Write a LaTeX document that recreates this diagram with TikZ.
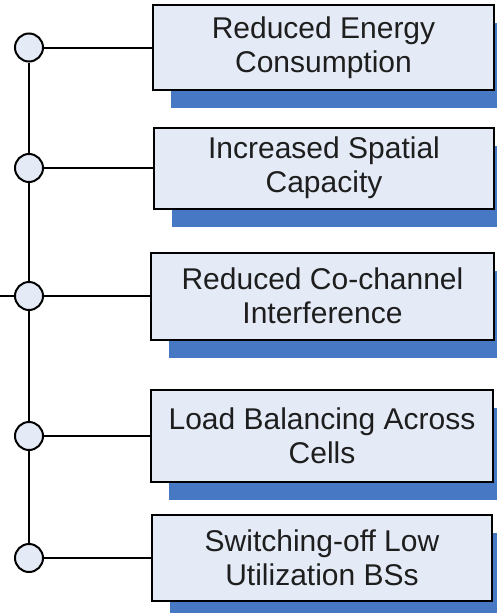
\documentclass[tikz,border=0pt]{standalone}
\usepackage{fontspec}
\setmainfont{Liberation Sans}
\usetikzlibrary{shadows}
\definecolor{boxfill}{RGB}{228,234,246}
\definecolor{shadowblue}{RGB}{70,120,195}
\definecolor{textc}{RGB}{30,30,30}
\begin{document}
\begin{tikzpicture}[x=1pt,y=-1pt,
  itembox/.style={draw=black, line width=2pt, fill=boxfill, rectangle,
    inner sep=0pt, align=center, text=textc,
    font=\fontsize{30}{34}\selectfont,
    drop shadow={shadow xshift=18pt, shadow yshift=-18pt, fill=shadowblue, opacity=1}},
  dot/.style={draw=black, line width=2pt, fill=boxfill, circle, minimum size=28pt, inner sep=0pt},
  link/.style={draw=black, line width=2pt}]
\useasboundingbox (0,0) rectangle (497,613);
\begin{scope}
\clip (0,0) rectangle (497,613);
\node[itembox, minimum width=341pt, minimum height=85pt] (b1) at (323.5,47.5) {Reduced Energy\\Consumption};
\node[itembox, minimum width=340pt, minimum height=81pt] (b2) at (324,168) {Increased Spatial\\Capacity};
\node[itembox, minimum width=343pt, minimum height=87pt] (b3) at (322.5,296) {Reduced Co-channel\\Interference};
\node[itembox, minimum width=342pt, minimum height=92pt] (b4) at (322,436) {Load Balancing Across\\Cells};
\node[itembox, minimum width=340pt, minimum height=86pt] (b5) at (322,558) {Switching-off Low\\Utilization BSs};
\end{scope}
\node[dot] (c1) at (29,47.5) {};
\node[dot] (c2) at (29,168) {};
\node[dot] (c3) at (29,296) {};
\node[dot] (c4) at (29,436) {};
\node[dot] (c5) at (29,558) {};
\coordinate (stub) at (0,296);
\draw[link] (c1) -- (c2);
\draw[link] (c2) -- (c3);
\draw[link] (c3) -- (c4);
\draw[link] (c4) -- (c5);
\draw[link] (stub) -- (c3);
\draw[link] (c1) -- (b1);
\draw[link] (c2) -- (b2);
\draw[link] (c3) -- (b3);
\draw[link] (c4) -- (b4);
\draw[link] (c5) -- (b5);
\end{tikzpicture}
\end{document}
